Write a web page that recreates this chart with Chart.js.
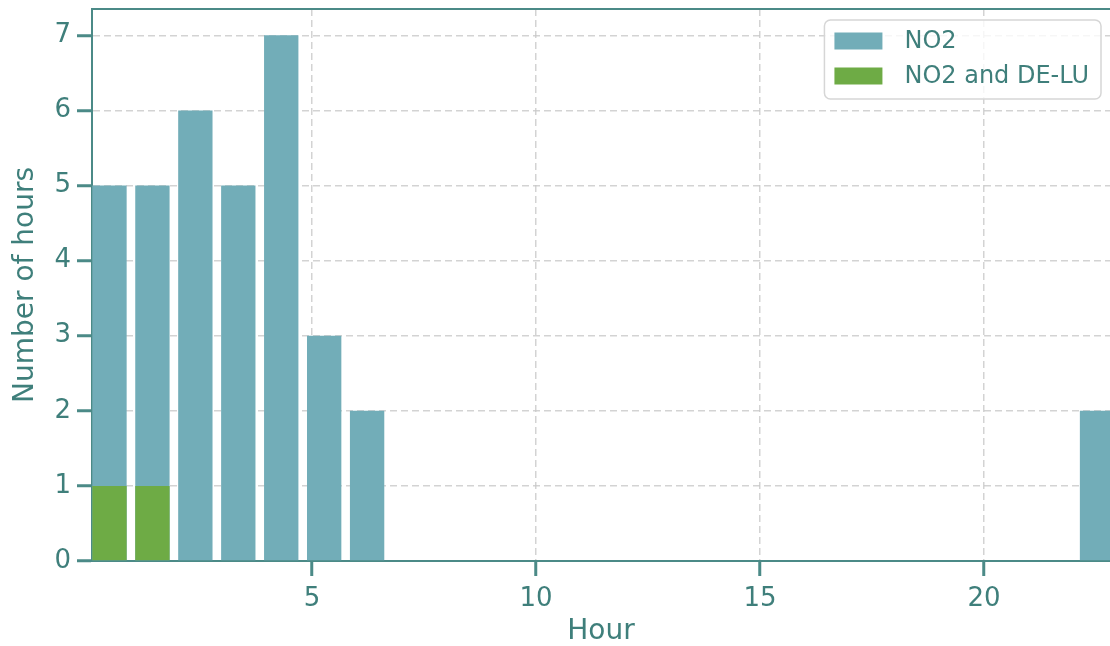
<!DOCTYPE html>
<html>
<head>
<meta charset="utf-8">
<script src="https://cdn.jsdelivr.net/npm/chart.js@4/dist/chart.umd.min.js"></script>
<style>
  html, body { margin: 0; padding: 0; background: #ffffff; }
  #wrap { width: 1110px; height: 646px; }
</style>
</head>
<body>
<div id="wrap"><canvas id="hoursChart" width="1110" height="646"></canvas></div>
<script>
// dados: horas do dia (bins do histograma) e contagens
const hours = [0, 1, 2, 3, 4, 5, 6, 7, 8, 9, 10, 11, 12, 13, 14, 15, 16, 17, 18, 19, 20, 21, 22, 23];
const no2Counts = [5, 5, 6, 5, 7, 3, 2, 0, 0, 0, 0, 0, 0, 0, 0, 0, 0, 0, 0, 0, 0, 0, 0, 2];
const no2DeLuCounts = [1, 1, 0, 0, 0, 0, 0, 0, 0, 0, 0, 0, 0, 0, 0, 0, 0, 0, 0, 0, 0, 0, 0, 0];
const seriesLabels = ["NO2", "NO2 and DE-LU"];
const yTicks = [0, 1, 2, 3, 4, 5, 6, 7];
const xTicks = [5, 10, 15, 20];

// histograma com 24 bins entre 0 e 23
const binWidth = 23 / hours.length;
const toPoints = (vals) => hours.map((h, i) => ({ x: (h + 0.5) * binWidth, y: vals[i] }));

const teal = "#3f7f7b";
const spine = "#4b8a87";
const gridColor = "rgba(200, 200, 200, 0.8)";
const barBlue = "#72adb8";
const barGreen = "#6eab45";
const font = "'DejaVu Sans', sans-serif";

// legenda desenhada dentro da área do gráfico (canto superior direito)
const boxLegend = {
  id: "boxLegend",
  afterDraw(chart) {
    const ctx = chart.ctx;
    const area = chart.chartArea;
    const items = chart.data.datasets;
    ctx.save();
    ctx.font = "24px " + font;
    let textW = 0;
    items.forEach((d) => { textW = Math.max(textW, ctx.measureText(d.label).width); });
    const pad = 10, patchW = 48, patchH = 17, gap = 22, rowH = 35;
    const w = pad + patchW + gap + textW + 12;
    const h = rowH * items.length + 9;
    const x = area.right - 9 - w;
    const y = area.top + 11;
    ctx.beginPath();
    ctx.roundRect(x, y, w, h, 6);
    ctx.fillStyle = "rgba(255, 255, 255, 0.8)";
    ctx.fill();
    ctx.lineWidth = 1.5;
    ctx.strokeStyle = "#d6d6d6";
    ctx.stroke();
    items.forEach((d, i) => {
      const cy = y + 21 + i * rowH;
      ctx.fillStyle = d.backgroundColor;
      ctx.fillRect(x + pad, cy - patchH / 2, patchW, patchH);
      ctx.fillStyle = teal;
      ctx.textBaseline = "middle";
      ctx.fillText(d.label, x + pad + patchW + gap, cy + 1);
    });
    ctx.restore();
  },
};

const gridOpts = {
  offset: false,
  color: gridColor,
  lineWidth: 1.5,
  tickColor: spine,
  tickLength: 15,
  tickWidth: 3,
  tickBorderDash: [],
};

const ctx = document.getElementById("hoursChart").getContext("2d");
const hoursChart = new Chart(ctx, {
  type: "bar",
  data: {
    datasets: [
      {
        label: seriesLabels[0],
        data: toPoints(no2Counts),
        backgroundColor: barBlue,
        grouped: false,
        order: 2,
        barPercentage: 0.8,
        categoryPercentage: 1.0,
      },
      {
        label: seriesLabels[1],
        data: toPoints(no2DeLuCounts),
        backgroundColor: barGreen,
        grouped: false,
        order: 1,
        barPercentage: 0.8,
        categoryPercentage: 1.0,
      },
    ],
  },
  options: {
    responsive: false,
    devicePixelRatio: 1,
    animation: false,
    layout: { padding: { top: 9, right: 0, left: 0, bottom: 0 } },
    plugins: {
      legend: { display: false },
      tooltip: { enabled: false },
    },
    scales: {
      x: {
        type: "linear",
        position: "bottom",
        offset: false,
        min: 0.089,
        max: 22.81,
        z: 1,
        afterFit: (scale) => {
          scale.height = 85;
          scale.paddingLeft = 0;
          scale.paddingRight = 0;
        },
        afterBuildTicks: (scale) => { scale.ticks = xTicks.map((v) => ({ value: v })); },
        ticks: {
          color: teal,
          font: { family: font, size: 26 },
          padding: 8,
          maxRotation: 0,
          includeBounds: false,
        },
        grid: gridOpts,
        border: { color: spine, width: 2, dash: [7, 4] },
        title: {
          display: true,
          text: "Hour",
          color: teal,
          font: { family: font, size: 28, lineHeight: 1.0 },
          padding: { top: 0, bottom: 0 },
        },
      },
      xTop: {
        type: "linear",
        position: "top",
        offset: false,
        min: 0.089,
        max: 22.81,
        afterFit: (scale) => { scale.height = 0; },
        ticks: { display: false },
        grid: { display: false },
        border: { color: spine, width: 2 },
      },
      y: {
        min: 0,
        max: 7.35,
        z: 1,
        afterFit: (scale) => {
          scale.width = 92;
          scale.paddingTop = 0;
          scale.paddingBottom = 0;
        },
        afterBuildTicks: (scale) => { scale.ticks = yTicks.map((v) => ({ value: v })); },
        ticks: {
          color: teal,
          font: { family: font, size: 26 },
          padding: 6,
          includeBounds: false,
        },
        grid: gridOpts,
        border: { color: spine, width: 2, dash: [7, 4] },
        title: {
          display: true,
          text: "Number of hours",
          color: teal,
          font: { family: font, size: 28, lineHeight: 1.0 },
          padding: { top: 12, bottom: 0 },
        },
      },
    },
  },
  plugins: [boxLegend],
});
</script>
</body>
</html>
